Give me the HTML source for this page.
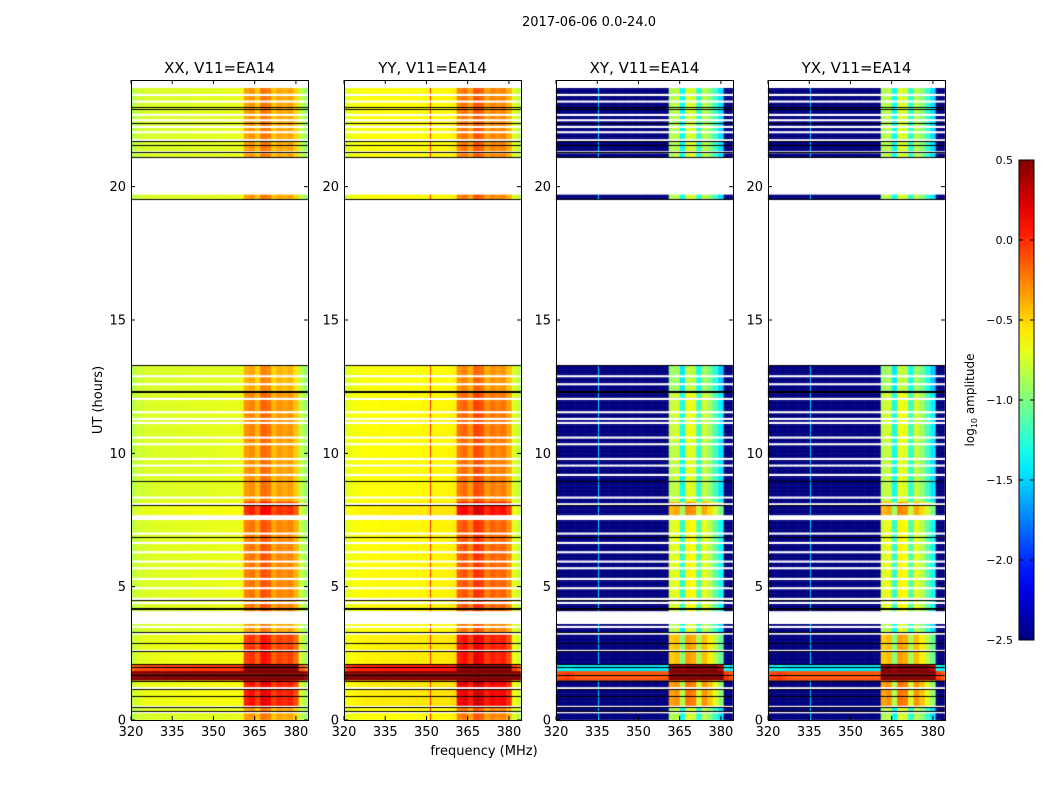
<!DOCTYPE html>
<html><head><meta charset="utf-8">
<style>
html,body{margin:0;padding:0;background:#fff;}
#wrap{position:relative;width:1050px;height:800px;font-family:"DejaVu Sans","Liberation Sans",sans-serif;}
canvas,svg{position:absolute;left:0;top:0;}
</style></head>
<body>
<div id="wrap">
<canvas id="hm" width="1050" height="800"></canvas>
<svg id="ov" width="1050" height="800"></svg>
</div>
<script>
// ---- data ----
const panelTitles = ["XX, V11=EA14","YY, V11=EA14","XY, V11=EA14","YX, V11=EA14"];
const panelKinds = ["par","par","cross","cross"];
const panelOffsets = [0, 0.1, 0, 0.0];
const freqChannels = [320,322,324,326,328,330,332,334,336,338,340,342,344,346,348,350,352,354,356,358,360,362,364,366,368,370,372,374,376,378,380,382,384];
const parallelSpectrum = [-0.9,-0.8,-0.78,-0.76,-0.75,-0.75,-0.75,-0.74,-0.74,-0.74,-0.74,-0.73,-0.73,-0.73,-0.73,-0.73,-0.72,-0.72,-0.72,-0.72,-0.7,-0.45,-0.4,-0.55,-0.3,-0.35,-0.55,-0.45,-0.5,-0.45,-0.6,-0.85,-0.95];
const crossSpectrum = [-2.6,-2.55,-2.5,-2.55,-2.6,-2.6,-2.6,-2.6,-2.6,-2.6,-2.6,-2.6,-2.6,-2.6,-2.6,-2.6,-2.6,-2.6,-2.6,-2.6,-2.6,-1.0,-0.95,-1.5,-0.85,-0.9,-1.4,-0.95,-1.1,-1.35,-1.6,-2.5,-2.6];
// narrow vertical RFI lines per panel [freq, value]
const panelLines = [[],[[351.4,0.1]],[[335.3,-1.45]],[[335.3,-1.45]]];
// time segments [startHour, endHour, bandLevel]
const bandLevels = [[0,0.5,0.1],[0.5,1.5,0.5],[1.5,2.1,0.6],[2.1,3.2,0.4],[3.2,3.6,0.1],[4.1,7.5,0.2],[7.5,8.2,0.45],[8.2,10.5,0.12],[10.5,12.3,0.15],[12.3,13.3,0.05],[19.55,19.7,0.1],[21.1,23.7,0.1]];
// broadband RFI segments [start, end, level]
const broadbandLevels = [[1.5,1.85,1.3],[1.85,2.1,0.6]];
// blank (no data) ranges
const gapRanges = [[3.65,4.05],[13.3,19.55],[19.7,21.1],[7.5,7.68],[11.5,11.62],[23.7,24]];
const whiteLines = [0.3,0.5,1.2,2.6,3.25,3.5,4.4,4.55,4.95,5.3,5.7,5.95,6.3,6.65,7.0,8.1,8.35,9.2,9.55,9.8,10.35,10.6,11.15,11.3,12.05,12.6,12.9,21.3,21.75,22.05,22.25,22.5,22.7,23.2,23.45];
const blackLines = [0.35,0.5,0.9,1.15,1.45,1.7,2.0,2.1,2.6,2.9,3.3,4.15,4.2,4.5,6.85,8.05,8.95,12.3,12.35,13.3,19.55,21.1,21.3,21.55,21.7,22.4,22.9,23.0];
const xTicks = [320,335,350,365,380];
const yTicks = [0,5,10,15,20];
const cbTicks = [0.5,0.0,-0.5,-1.0,-1.5,-2.0,-2.5];

// ---- geometry ----
const panelLeft = [131,344,556,768], PW=177, PT=80, PH=640;
const xs = (p,f)=>panelLeft[p]+(f-320)*(PW/64.4);
const ys = h=>720-h*(640/24);
function jet(v){let t=(v+2.5)/3;t=Math.max(0,Math.min(1,t));
 const c=x=>Math.round(255*Math.max(0,Math.min(1,x)));
 return `rgb(${c(1.5-Math.abs(4*t-3))},${c(1.5-Math.abs(4*t-2))},${c(1.5-Math.abs(4*t-1))})`;}
function segVal(arr,h){for(const s of arr){if(h>=s[0]&&h<s[1])return s[2];}return null;}
function inGap(h){return gapRanges.some(g=>h>=g[0]&&h<g[1]);}

const ctx=document.getElementById('hm').getContext('2d');
const dh=0.05;
for(let p=0;p<4;p++){
 ctx.save();ctx.beginPath();ctx.rect(panelLeft[p],PT,PW,PH);ctx.clip();
 for(let h=0;h<24;h+=dh){
  const hc=h+dh/2;
  if(inGap(hc))continue;
  if(whiteLines.some(w=>Math.abs(w-hc)<0.035))continue;
  const bl=segVal(bandLevels,hc); if(bl===null)continue;
  const bb=segVal(broadbandLevels,hc)||0;
  const y0=ys(h+dh), hh=ys(h)-ys(h+dh)+0.5;
  for(let i=0;i<freqChannels.length;i++){
   const f=freqChannels[i]; const hi=f>=362&&f<=380;
   let v;
   if(panelKinds[p]==="par"){v=parallelSpectrum[i]+panelOffsets[p]+(hi?bl:bl*0.15)+bb;}
   else{v=crossSpectrum[i]+panelOffsets[p]+(hi?bl*1.3:0)+bb*1.9;}
   ctx.fillStyle=jet(v);
   const x0=xs(p,f-1),x1=xs(p,f+1);
   ctx.fillRect(x0,y0,x1-x0+0.5,hh);
  }
  for(const ln of panelLines[p]){
   if(bb>0)continue;
   ctx.fillStyle=jet(ln[1]);
   ctx.fillRect(Math.round(xs(p,ln[0])),y0,1,hh);
  }
 }
 ctx.fillStyle="#000";
 for(const b of blackLines){ctx.fillRect(panelLeft[p],Math.round(ys(b)),PW,1);}
 ctx.restore();
}

// ---- SVG overlay ----
const NS="http://www.w3.org/2000/svg", svg=document.getElementById('ov');
function el(tag,attrs,txt){const e=document.createElementNS(NS,tag);for(const k in attrs)e.setAttribute(k,attrs[k]);if(txt!==undefined)e.textContent=txt;svg.appendChild(e);return e;}
const st=el('text',{x:589,y:26,'font-size':13,'text-anchor':'middle'},"2017-06-06 0.0-24.0");


for(let p=0;p<4;p++){
 const L=panelLeft[p];
 const fr=el('rect',{x:L+0.5,y:PT+0.5,width:PW,height:PH,fill:'none',stroke:'#000','stroke-width':1});
 
 
 const t=el('text',{x:L+PW/2,y:73,'font-size':15,'text-anchor':'middle'},panelTitles[p]);
 
 
 for(const f of xTicks){const x=xs(p,f);
  el('line',{x1:x,x2:x,y1:720,y2:716,stroke:'#000'});el('line',{x1:x,x2:x,y1:80,y2:84,stroke:'#000'});
  const tl=el('text',{x:x,y:736,'font-size':13,'text-anchor':'middle'},String(f));
  
  }
 for(const h of yTicks){const y=ys(h);
  el('line',{x1:L,x2:L+4,y1:y,y2:y,stroke:'#000'});el('line',{x1:L+PW,x2:L+PW-4,y1:y,y2:y,stroke:'#000'});
  const tl=el('text',{x:L-5,y:y+4.5,'font-size':13,'text-anchor':'end'},String(h));
  
  }
}
const yl=el('text',{x:0,y:0,'font-size':13,'text-anchor':'middle',transform:'translate(102,400) rotate(-90)'},"UT (hours)");


const xl=el('text',{x:484,y:755,'font-size':13,'text-anchor':'middle'},"frequency (MHz)");


// colorbar
const defs=el('defs',{});const g=document.createElementNS(NS,'linearGradient');
g.setAttribute('id','jetg');g.setAttribute('x1','0');g.setAttribute('y1','1');g.setAttribute('x2','0');g.setAttribute('y2','0');
for(let i=0;i<=20;i++){const s=document.createElementNS(NS,'stop');s.setAttribute('offset',i/20);s.setAttribute('stop-color',jet(-2.5+3*i/20));g.appendChild(s);}
defs.appendChild(g);
const cb=el('rect',{x:1019,y:160,width:15,height:480,fill:'url(#jetg)',stroke:'#000','stroke-width':1});


for(const v of cbTicks){const y=160+(0.5-v)*160;
 el('line',{x1:1019,x2:1023,y1:y,y2:y,stroke:'#000'});el('line',{x1:1034,x2:1030,y1:y,y2:y,stroke:'#000'});
 const tl=el('text',{x:1013,y:y+4,'font-size':11,'text-anchor':'end'},v.toFixed(1).replace('-','\u2212'));
 
 }
const cl=el('text',{x:0,y:0,'font-size':12,'text-anchor':'middle',transform:'translate(974,400) rotate(-90)'});


cl.innerHTML='log<tspan font-size="8" dy="3">10</tspan><tspan dy="-3"> amplitude</tspan>';
</script>
</body></html>
